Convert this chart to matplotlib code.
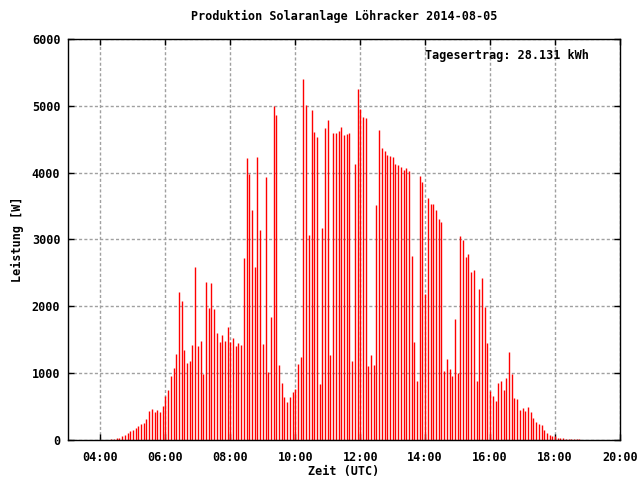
import matplotlib
matplotlib.use("Agg")
import matplotlib.pyplot as plt
import matplotlib.dates as mdates
import pandas as pd

# Leistung in W, alle 5 Minuten ab 04:20 UTC
start = "2014-08-05 04:20"
power = [
    15, 15, 30, 30, 60, 75, 105, 135, 150, 180,
    210, 240, 255, 315, 435, 465, 420, 450, 420, 510,
    660, 750, 960, 1080, 1290, 2215, 2080, 1350, 1150, 1180,
    1420, 2590, 1405, 1480, 990, 2365, 1975, 2350, 1960, 1600,
    1465, 1570, 1480, 1690, 1465, 1525, 1405, 1450, 1420, 2720,
    4220, 3980, 3440, 2590, 4235, 3140, 1435, 3935, 1015, 1840,
    5000, 4860, 1120, 855, 645, 570, 645, 720, 765, 1135,
    1240, 5400, 5010, 3070, 4940, 4610, 4530, 840, 3170, 4670,
    4790, 1270, 4590, 4590, 4620, 4680, 4560, 4580, 4590, 1180,
    4130, 5250, 4960, 4830, 4815, 1105, 1270, 1120, 3515, 4640,
    4370, 4325, 4265, 4250, 4235, 4130, 4115, 4085, 4040, 4070,
    4025, 2750, 1465, 880, 3950, 3860, 2185, 3620, 3530, 3530,
    3440, 3305, 3260, 1030, 1210, 1060, 955, 1810, 1000, 3050,
    2990, 2740, 2780, 2515, 2545, 880, 2260, 2420, 1990, 1450,
    735, 660, 585, 855, 880, 750, 930, 1315, 985, 630,
    615, 450, 480, 435, 495, 420, 330, 270, 240, 225,
    150, 105, 75, 60, 60, 30, 30, 30, 15, 15,
    15, 15, 15, 15,
]
times = pd.date_range(start, periods=len(power), freq="5min")
ertrag = "28.131"

font = {"family": "DejaVu Sans Mono", "weight": "bold", "size": 8.5}
plt.rcParams["font.family"] = "DejaVu Sans Mono"
plt.rcParams["font.weight"] = "bold"
plt.rcParams["font.size"] = 8.5

fig = plt.figure(figsize=(6.4, 4.8), dpi=100)
ax = fig.add_axes([68 / 640, 40 / 480, 552 / 640, 401 / 480])

ax.vlines(times, 0, power, color="red", linewidth=1.0)

ax.set_xlim(pd.Timestamp("2014-08-05 03:00"), pd.Timestamp("2014-08-05 20:00"))
ax.set_ylim(0, 6000)
ax.xaxis.set_major_locator(mdates.HourLocator(byhour=range(4, 21, 2)))
ax.xaxis.set_major_formatter(mdates.DateFormatter("%H:%M"))
ax.set_yticks(range(0, 6001, 1000))

ax.grid(True, color="#a0a0a0", linestyle=(0, (2.2, 1.6)), linewidth=1)
ax.tick_params(direction="in", top=True, right=True, length=4, width=1)
ax.tick_params(axis="x", pad=8)
ax.tick_params(axis="y", pad=5.5)
for s in ax.spines.values():
    s.set_linewidth(1)

ax.set_title("Produktion Solaranlage Löhracker 2014-08-05", pad=14, **font)
ax.set_xlabel("Zeit (UTC)", labelpad=1, **font)
ax.set_ylabel("Leistung [W]", labelpad=6, **font)
ax.text(0.647, 0.958, f"Tagesertrag: {ertrag} kWh", transform=ax.transAxes,
        ha="left", va="center", **font)

fig.savefig("out.png", dpi=100)
